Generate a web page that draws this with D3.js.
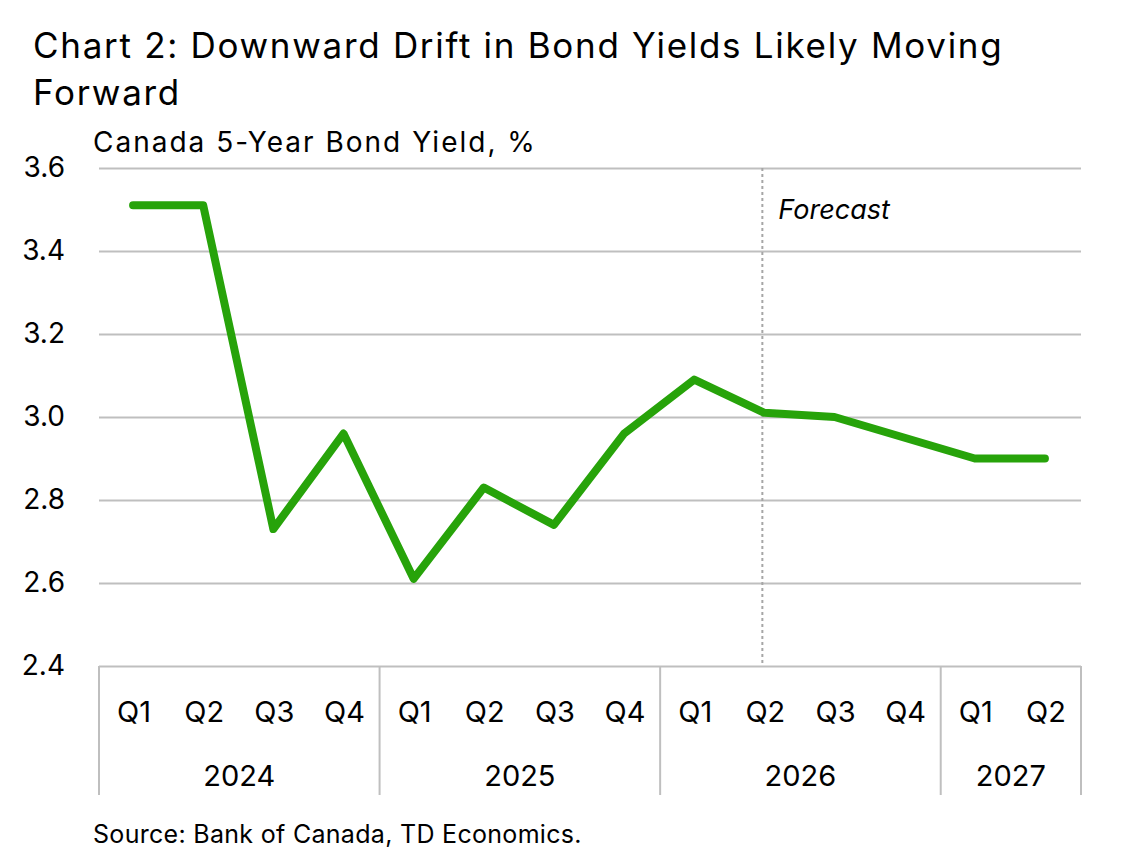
<!DOCTYPE html>
<html>
<head>
<meta charset="utf-8">
<script src="https://cdn.jsdelivr.net/npm/d3@7"></script>
<style>
  body { margin: 0; background: #fff; }
  svg text { font-family: Inter, "Open Sans", sans-serif; fill: #000; }
</style>
</head>
<body>
<div id="chart"></div>
<script>
// Canada 5-year bond yield, quarterly, %
const quarters = ['Q1', 'Q2', 'Q3', 'Q4', 'Q1', 'Q2', 'Q3', 'Q4', 'Q1', 'Q2', 'Q3', 'Q4', 'Q1', 'Q2'];
const years = ['2024', '2024', '2024', '2024', '2025', '2025', '2025', '2025',
  '2026', '2026', '2026', '2026', '2027', '2027'];
const yields = [3.51, 3.51, 2.73, 2.96, 2.61, 2.83, 2.74, 2.96, 3.09, 3.01, 3.00, 2.95, 2.90, 2.90];
const yTicks = [2.4, 2.6, 2.8, 3.0, 3.2, 3.4, 3.6];
const forecastStart = 9; // Q2 2026

const W = 1142;
const H = 850;
const margin = { top: 168, right: 61, bottom: 184, left: 99 };
const w = W - margin.left - margin.right;
const h = H - margin.top - margin.bottom;

const svg = d3.select('#chart').append('svg')
  .attr('width', W)
  .attr('height', H);

svg.append('text')
  .attr('x', 33).attr('y', 58)
  .style('font-size', '35px')
  .style('letter-spacing', '1.7px')
  .text('Chart 2: Downward Drift in Bond Yields Likely Moving');
svg.append('text')
  .attr('x', 33).attr('y', 105)
  .style('font-size', '35px')
  .style('letter-spacing', '1.7px')
  .text('Forward');
svg.append('text')
  .attr('x', 93).attr('y', 152)
  .style('font-size', '28px')
  .style('letter-spacing', '2px')
  .text('Canada 5-Year Bond Yield, %');
svg.append('text')
  .attr('x', 93).attr('y', 843)
  .style('font-size', '25px')
  .style('letter-spacing', '0.3px')
  .text('Source: Bank of Canada, TD Economics.');

const g = svg.append('g')
  .attr('transform', `translate(${margin.left},${margin.top})`);

const idx = d3.range(yields.length);
const x = d3.scaleBand().domain(idx).range([0, w]);
const y = d3.scaleLinear().domain([2.4, 3.6]).range([h, 0]);

// gridlines + y labels
const yAxis = d3.axisLeft(y)
  .tickValues(yTicks)
  .tickFormat(d3.format('.1f'))
  .tickSize(-w)
  .tickPadding(34);
g.append('g').call(yAxis)
  .call(a => a.select('.domain').remove())
  .call(a => a.selectAll('line').attr('stroke', '#bfbfbf').attr('stroke-width', 2))
  .call(a => a.selectAll('text').style('font-size', '28px').attr('fill', '#000'));

// category axis: quarter labels and year separators
const axisG = g.append('g').attr('transform', `translate(0,${h})`);
axisG.selectAll('text.q')
  .data(idx)
  .enter().append('text')
  .attr('class', 'q')
  .attr('x', d => x(d) + x.bandwidth() / 2)
  .attr('y', 56)
  .attr('text-anchor', 'middle')
  .style('font-size', '29px')
  .text(d => quarters[d]);

const yearGroups = d3.groups(idx, d => years[d]);
const bounds = [0].concat(yearGroups.map(([, v]) => x(v[v.length - 1]) + x.bandwidth()));
axisG.selectAll('line.sep')
  .data(bounds)
  .enter().append('line')
  .attr('x1', d => d).attr('x2', d => d)
  .attr('y1', 0).attr('y2', 129)
  .attr('stroke', '#bfbfbf')
  .attr('stroke-width', 2);
axisG.selectAll('text.yr')
  .data(yearGroups)
  .enter().append('text')
  .attr('x', ([, v]) => (x(v[0]) + x(v[v.length - 1]) + x.bandwidth()) / 2)
  .attr('y', 120)
  .attr('text-anchor', 'middle')
  .style('font-size', '29px')
  .text(([k]) => k);

// forecast marker
const fx = x(forecastStart) + x.bandwidth() / 2 - 3;
g.append('line')
  .attr('x1', fx).attr('x2', fx)
  .attr('y1', 0).attr('y2', h)
  .attr('stroke', '#a6a6a6')
  .attr('stroke-width', 2)
  .attr('stroke-dasharray', '3,3');
g.append('text')
  .attr('x', fx + 16).attr('y', 51)
  .style('font-size', '27px')
  .style('font-style', 'italic')
  .text('Forecast');

const line = d3.line()
  .x(d => x(d) + x.bandwidth() / 2 - 1)
  .y(d => y(yields[d]));
g.append('path')
  .datum(idx)
  .attr('d', line)
  .attr('fill', 'none')
  .attr('stroke', '#27a30a')
  .attr('stroke-width', 8)
  .attr('stroke-linecap', 'round')
  .attr('stroke-linejoin', 'round');
</script>
</body>
</html>
